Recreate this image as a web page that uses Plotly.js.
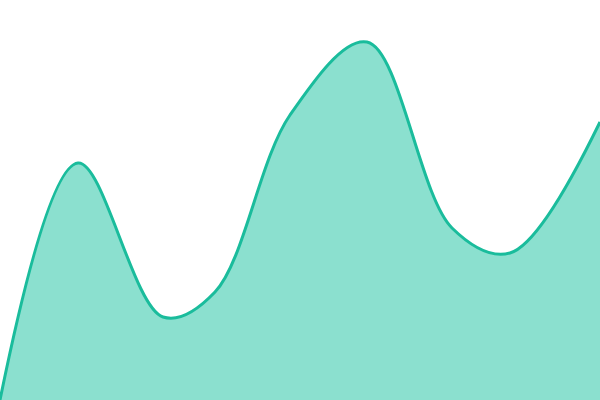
<!DOCTYPE html>
<html>
<head>
<meta charset="utf-8">
<script src="https://cdn.plot.ly/plotly-3.0.1.min.js"></script>
<style>
  html, body { margin: 0; padding: 0; background: #fff; }
  #chart { width: 600px; height: 400px; }
</style>
</head>
<body>
<div id="chart"></div>
<script>
// ── Data ────────────────────────────────────────────────────────────
const xs = [0, 78, 163, 215, 290, 367, 452, 510, 600];
const ys = [0, 237, 83, 108, 285, 358, 172, 147, 278];

const LINE_COLOR = "#1abc9c";
const FILL_COLOR = "#8be0cf";

const trace = {
  x: xs,
  y: ys,
  type: "scatter",
  mode: "lines",
  fill: "tozeroy",
  fillcolor: FILL_COLOR,
  line: { color: LINE_COLOR, width: 3, shape: "spline", smoothing: 1 },
  hoverinfo: "skip",
};

const layout = {
  width: 600,
  height: 400,
  margin: { t: 0, r: 0, b: 0, l: 0 },
  showlegend: false,
  xaxis: { range: [0, 600], visible: false, fixedrange: true },
  yaxis: { range: [0, 400], visible: false, fixedrange: true },
  plot_bgcolor: "#fff",
  paper_bgcolor: "#fff",
};

Plotly.newPlot("chart", [trace], layout, { displayModeBar: false, staticPlot: true });
</script>
</body>
</html>
